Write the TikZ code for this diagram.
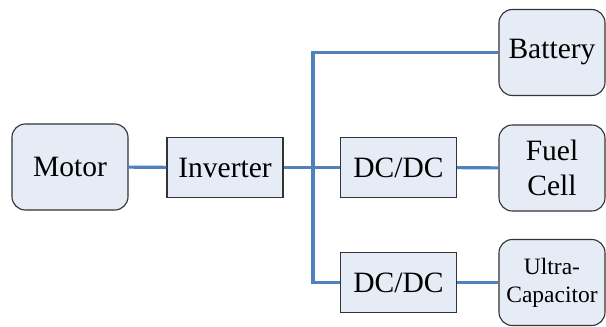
\documentclass[tikz,border=0pt]{standalone}
\usepackage{fontspec}
\setmainfont{Liberation Serif}
\usepackage{tikz}

\definecolor{boxfill}{RGB}{230,236,246}
\definecolor{busblue}{RGB}{79,129,189}

\begin{document}
\begin{tikzpicture}[x=0.025cm, y=-0.025cm,
        round/.style={rectangle, rounded corners=9.5pt, draw=black!80, fill=boxfill, line width=0.8pt, minimum width=2.9cm, minimum height=2.15cm, align=center, font=\fontsize{21}{25}\selectfont},
        block/.style={rectangle, draw=black!80, fill=boxfill, line width=0.8pt, minimum width=2.9cm, minimum height=1.52cm, font=\fontsize{21}{25}\selectfont},
        bus/.style={draw=busblue, line width=2.2pt}]
        \useasboundingbox (0,0) rectangle (606,327);
        \node [round] (motor) at (70,167) {Motor};
        \node [block] (inv) at (225,167.5) {Inverter};
        \node [block] (dc1) at (398.5,167.5) {DC/DC};
        \node [block] (dc2) at (398.5,282.5) {DC/DC};
        \node [round, minimum width=2.65cm] (batt) at (552,52.5) {Battery};
        \node [round, minimum width=2.65cm] (fuel) at (552,168) {Fuel\\Cell};
        \node [round, minimum width=2.65cm, font=\fontsize{16.7}{20}\selectfont] (ultra) at (552,282.5) {Ultra-\\Capacitor};
        \coordinate (top) at (313,52.5);
        \coordinate (bot) at (313,282.5);
        \draw [bus] (motor) -- (inv);
        \draw [bus] (inv) -- (dc1);
        \draw [bus] (batt) -- (top) -- (bot) -- (dc2);
        \draw [bus] (dc1) -- (fuel);
        \draw [bus] (dc2) -- (ultra);
        \end{tikzpicture}
\end{document}
